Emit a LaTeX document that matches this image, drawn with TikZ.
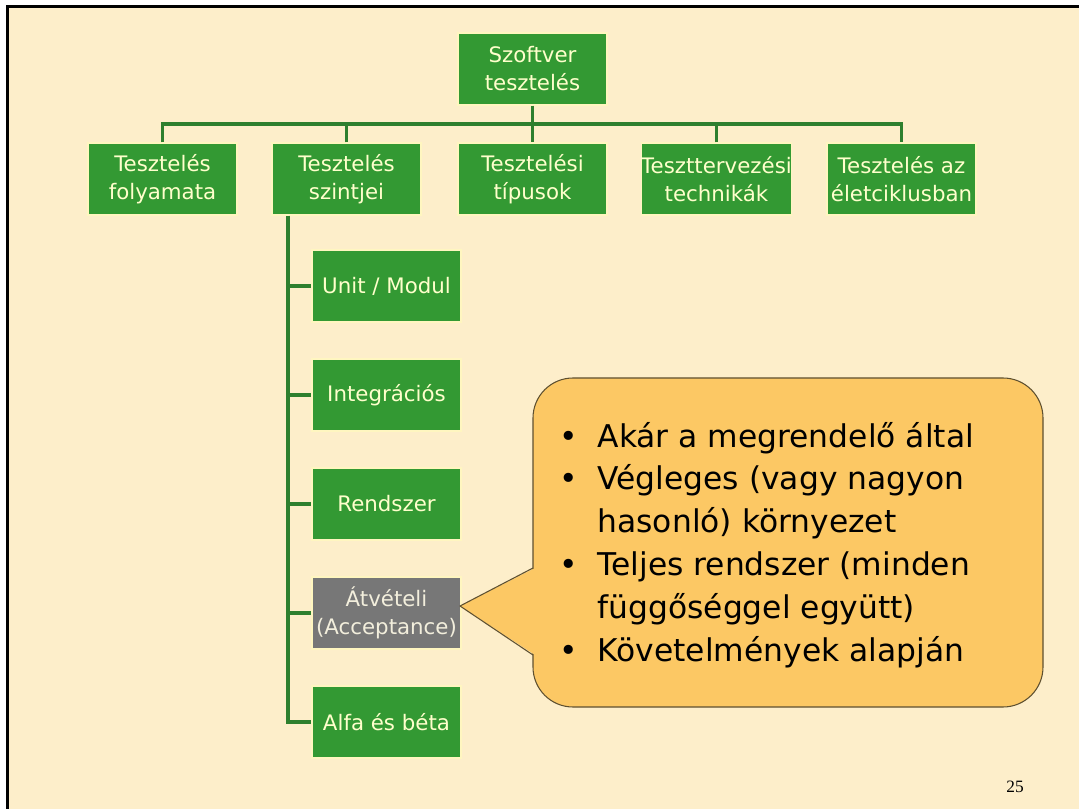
\documentclass[tikz,border=0pt]{standalone}
\usepackage{fontspec}
\setmainfont{DejaVu Sans}
\newfontfamily\pagenofont{Liberation Serif}
\definecolor{slidebg}{HTML}{FDEECA}
\definecolor{boxgreen}{HTML}{339933}
\definecolor{boxedge}{HTML}{FFF6C0}
\definecolor{boxtext}{HTML}{FFFFCC}
\definecolor{connector}{HTML}{2E7F2E}
\definecolor{boxgray}{HTML}{777777}
\definecolor{graytext}{HTML}{F2EEDC}
\definecolor{calloutfill}{HTML}{FCC864}
\definecolor{calloutedge}{HTML}{5E5030}
\begin{document}
\begin{tikzpicture}[x=0.75pt,y=-0.75pt,
  box/.style={draw=boxedge, line width=0.9pt, fill=boxgreen, text=boxtext,
    minimum width=111.75pt, minimum height=54pt, inner sep=0pt, align=center,
    font=\fontsize{16}{21}\selectfont},
  graybox/.style={box, fill=boxgray, text=graytext},
  conn/.style={draw=connector, line width=2.6pt},
  callout/.style={draw=calloutedge, line width=0.8pt, fill=calloutfill,
    rounded corners=30pt, minimum width=382.5pt, minimum height=246.75pt, inner sep=0pt},
  callouttext/.style={inner sep=0pt, anchor=base west,
    font=\fontsize{23.5}{32.25}\selectfont}
]
\useasboundingbox (0,0) rectangle (1079,809);
% slide background and frame
\fill[slidebg] (7,7) rectangle (1079,809);
\draw[black, line width=2.25pt] (7,809) -- (7,7) -- (1079,7);

% top of the hierarchy
\node[box] (root) at (532.5,69) {Szoftver\\tesztelés};

% second level
\node[box] (folyamat)   at (162.5,179) {Tesztelés\\folyamata};
\node[box] (szintek)    at (346.5,179) {Tesztelés\\szintjei};
\node[box] (tipusok)    at (532.5,179) {Tesztelési\\típusok};
\node[box] (technikak)  at (716.5,179) {Teszttervezési\\technikák};
\node[box] (eletciklus) at (901.5,179) {Tesztelés az\\életciklusban};

% testing levels
\node[box]      (unit)    at (386.5,286) {Unit / Modul};
\node[box]      (integr)  at (386.5,395) {Integrációs};
\node[box]      (rendszer) at (386.5,504) {Rendszer};
\node[graybox]  (atvetel) at (386.5,613) {Átvételi\\(Acceptance)};
\node[box]      (alfa)    at (386.5,722) {Alfa és béta};

% bus between the first two levels
\coordinate (bus) at (532.5,124);
\draw[conn] (folyamat.north) |- (bus) -| (eletciklus.north);
\draw[conn] (szintek.north) -- (szintek.north |- bus);
\draw[conn] (technikak.north) -- (technikak.north |- bus);
\draw[conn] (root.south) -- (tipusok.north);

% trunk with the level branches
\coordinate (trunk) at (288,0);
\draw[conn] (szintek.south -| trunk) |- (alfa.west);
\draw[conn] (unit.west -| trunk) -- (unit.west);
\draw[conn] (integr.west -| trunk) -- (integr.west);
\draw[conn] (rendszer.west -| trunk) -- (rendszer.west);
\draw[conn] (atvetel.west -| trunk) -- (atvetel.west);

% callout for the acceptance level
\node[callout] (info) at (788,542.5) {};
\coordinate (tip) at (460,606);
\coordinate (pa) at (533,568);
\coordinate (pb) at (533,655);
\fill[calloutfill] (tip) -- ([xshift=1.5pt]pa) -- ([xshift=1.5pt]pb) -- cycle;
\draw[calloutedge, line width=0.8pt, line join=round] (pa) -- (tip) -- (pb);
\node[callouttext] (infotext) at (559.5,447) {%
  \begin{tabular}[t]{@{}l@{\hspace{14.5pt}}l@{}}
  \textbullet & Akár a megrendelő által\\
  \textbullet & Végleges (vagy nagyon\\
              & hasonló) környezet\\
  \textbullet & Teljes rendszer (minden\\
              & függőséggel együtt)\\
  \textbullet & Követelmények alapján
  \end{tabular}};

% page number
\node[font=\pagenofont\fontsize{13}{15}\selectfont] (pageno) at (1015,787) {25};
\end{tikzpicture}
\end{document}
